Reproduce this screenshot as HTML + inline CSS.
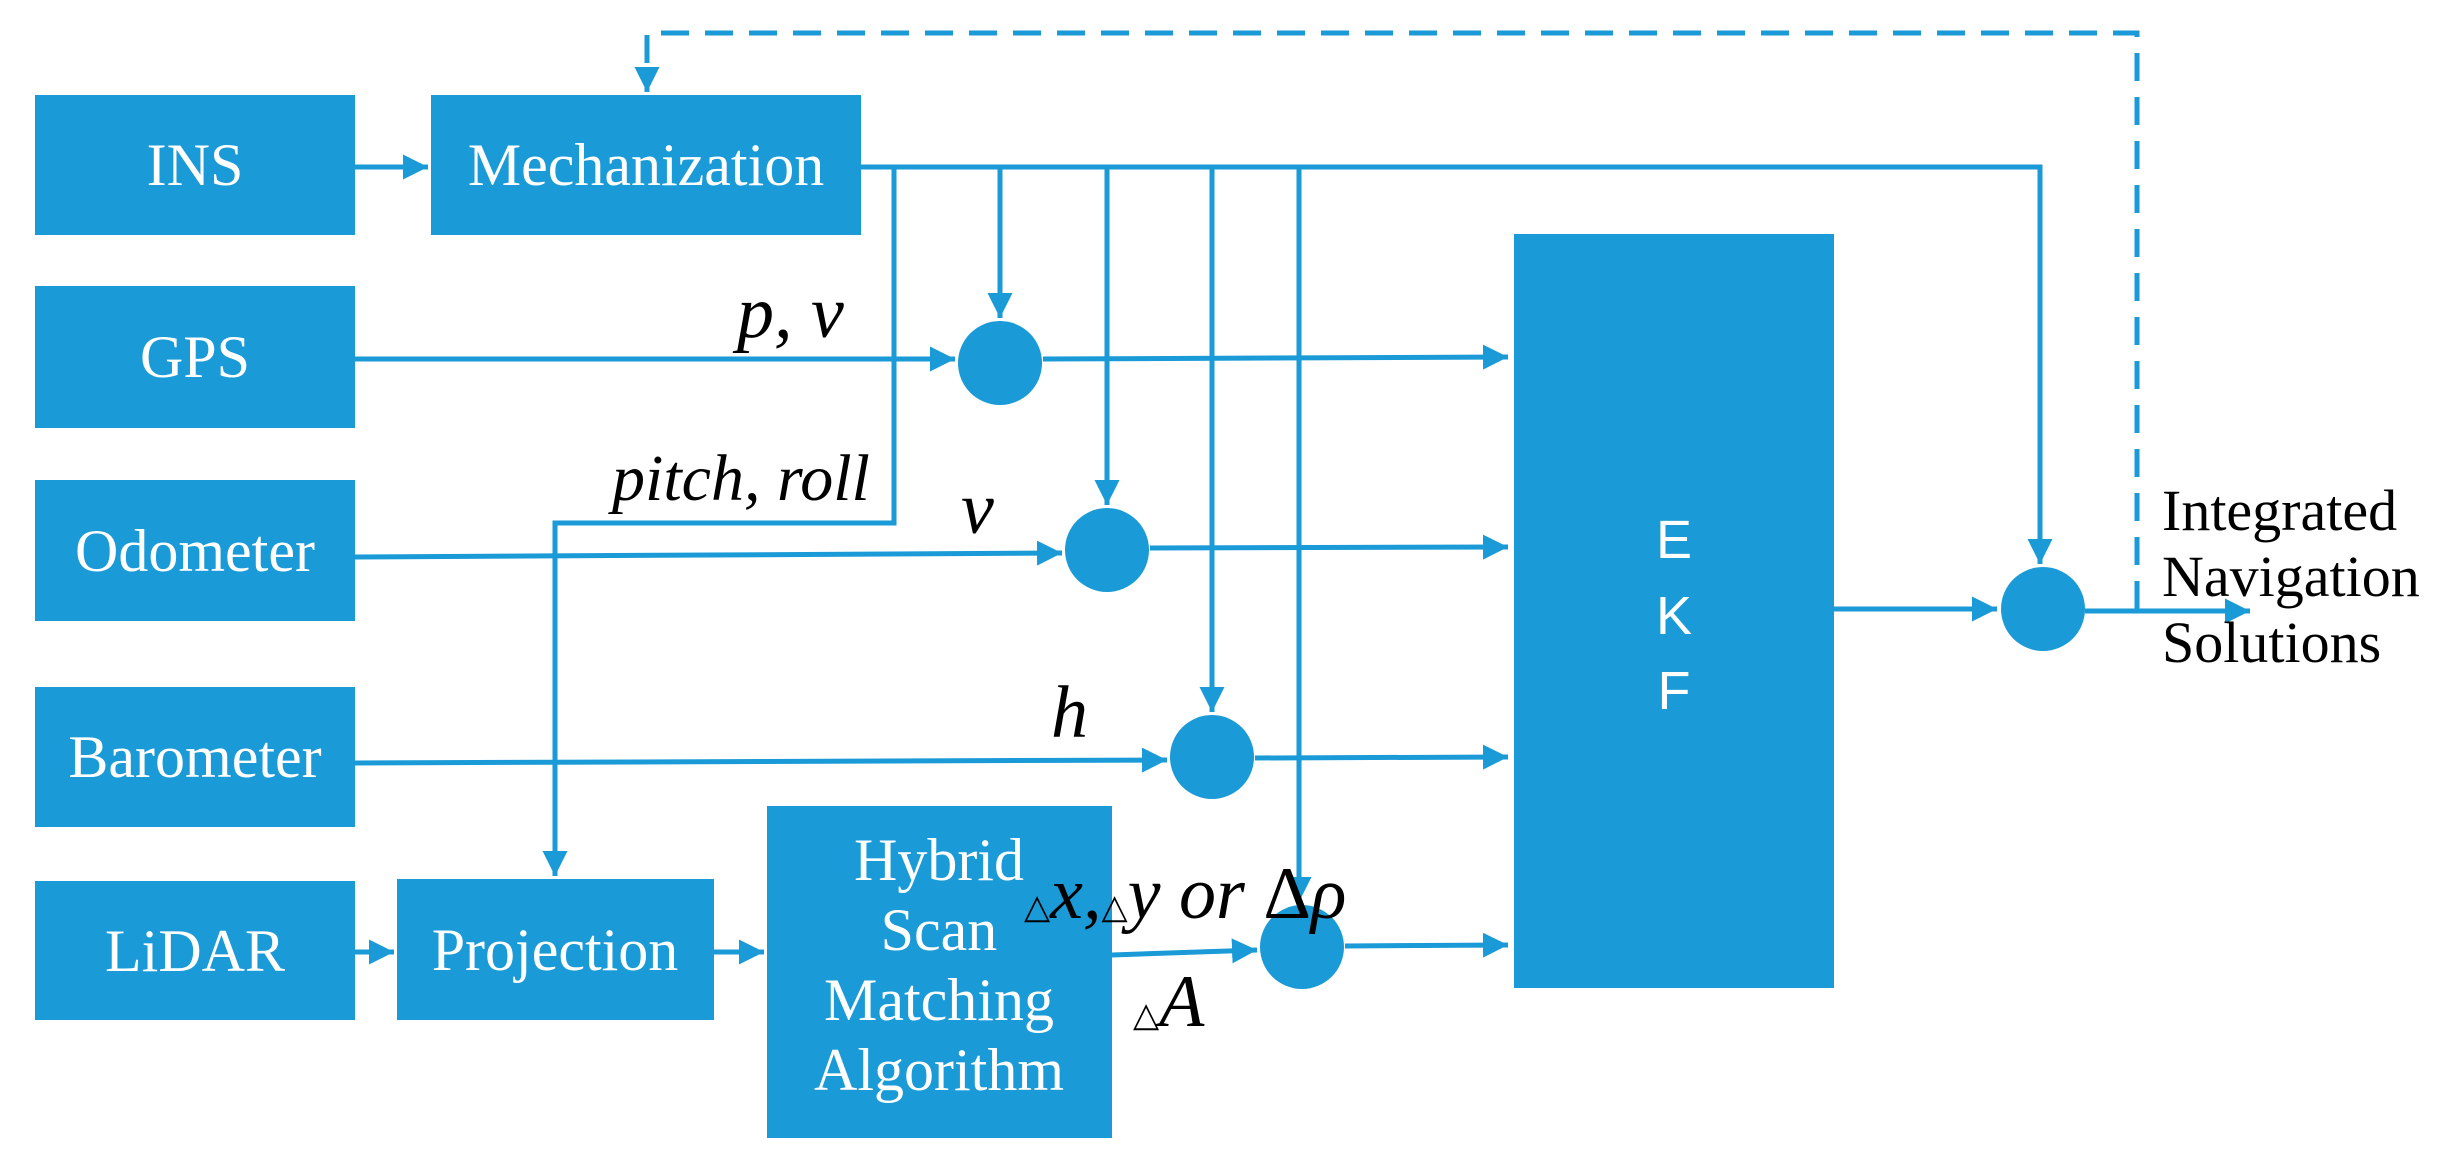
<!DOCTYPE html>
<html><head><style>body{margin:0;background:#fff}</style></head><body>
<svg width="2459" height="1161" xmlns="http://www.w3.org/2000/svg">
<defs><marker id="a" markerWidth="6" markerHeight="6" refX="5" refY="3" orient="auto" markerUnits="strokeWidth"><path d="M0,0.5 L5,3 L0,5.5 Z" fill="#1a9ad6"/></marker></defs>
<g fill="#1a9ad6">
<rect x="35" y="95" width="320" height="140"/>
<rect x="431" y="95" width="430" height="140"/>
<rect x="35" y="286" width="320" height="142"/>
<rect x="35" y="480" width="320" height="141"/>
<rect x="35" y="687" width="320" height="140"/>
<rect x="35" y="881" width="320" height="139"/>
<rect x="397" y="879" width="317" height="141"/>
<rect x="767" y="806" width="345" height="332"/>
<rect x="1514" y="234" width="320" height="754"/>
<circle cx="1000" cy="363" r="42"/>
<circle cx="1107" cy="550" r="42"/>
<circle cx="1212" cy="757" r="42"/>
<circle cx="1302" cy="947" r="42"/>
<circle cx="2043" cy="609" r="42"/>
</g>
<g stroke="#1a9ad6" stroke-width="5" fill="none">
<line x1="355" y1="167" x2="428" y2="167" marker-end="url(#a)"/>
<line x1="355" y1="952" x2="394" y2="952" marker-end="url(#a)"/>
<line x1="714" y1="952" x2="764" y2="952" marker-end="url(#a)"/>
<polyline points="861,167 2040,167 2040,564" marker-end="url(#a)"/>
<polyline points="894,167 894,523 555,523 555,876" marker-end="url(#a)"/>
<line x1="1000" y1="167" x2="1000" y2="318" marker-end="url(#a)"/>
<line x1="1107" y1="167" x2="1107" y2="505" marker-end="url(#a)"/>
<line x1="1212" y1="167" x2="1212" y2="712" marker-end="url(#a)"/>
<line x1="1299" y1="167" x2="1299" y2="902" marker-end="url(#a)"/>
<line x1="355" y1="359" x2="955" y2="359" marker-end="url(#a)"/>
<line x1="355" y1="557" x2="1062" y2="553" marker-end="url(#a)"/>
<line x1="355" y1="763" x2="1167" y2="760" marker-end="url(#a)"/>
<line x1="1112" y1="955" x2="1257" y2="950" marker-end="url(#a)"/>
<line x1="1043" y1="359" x2="1508" y2="357" marker-end="url(#a)"/>
<line x1="1150" y1="548" x2="1508" y2="547" marker-end="url(#a)"/>
<line x1="1255" y1="758" x2="1508" y2="757" marker-end="url(#a)"/>
<line x1="1345" y1="946" x2="1508" y2="945" marker-end="url(#a)"/>
<line x1="1834" y1="609" x2="1997" y2="609" marker-end="url(#a)"/>
<line x1="2085" y1="611" x2="2250" y2="611" marker-end="url(#a)"/>
<polyline points="2137,609 2137,33 647,33 647,92" stroke-dasharray="28,16" marker-end="url(#a)"/>
</g>
<g fill="#fff" font-family="Liberation Serif, serif" font-size="60" text-anchor="middle">
<text x="195" y="185">INS</text>
<text x="646" y="185">Mechanization</text>
<text x="195" y="377">GPS</text>
<text x="195" y="571">Odometer</text>
<text x="195" y="777">Barometer</text>
<text x="195" y="971">LiDAR</text>
<text x="555" y="970">Projection</text>
<text x="939" y="880">Hybrid</text>
<text x="939" y="950">Scan</text>
<text x="939" y="1020">Matching</text>
<text x="939" y="1090">Algorithm</text>
</g>
<g fill="#fff" font-family="Liberation Sans, sans-serif" font-size="54" text-anchor="middle">
<text x="1674" y="558">E</text>
<text x="1674" y="634">K</text>
<text x="1674" y="709">F</text>
</g>
<g fill="#000" font-family="Liberation Serif, serif" font-style="italic" font-size="74">
<text x="737" y="337">p, v</text>
<text x="612" y="500" font-size="66">pitch, roll</text>
<text x="961" y="533">v</text>
<text x="1051" y="737">h</text>
<text x="1024" y="918"><tspan font-size="34" font-style="normal">△</tspan>x,<tspan font-size="34" font-style="normal">△</tspan>y or <tspan font-style="normal">Δ</tspan>ρ</text>
<text x="1133" y="1026"><tspan font-size="34" font-style="normal">△</tspan>A</text>
</g>
<g fill="#000" font-family="Liberation Serif, serif" font-size="58">
<text x="2162" y="530">Integrated</text>
<text x="2162" y="596">Navigation</text>
<text x="2162" y="662">Solutions</text>
</g>
</svg>
</body></html>
